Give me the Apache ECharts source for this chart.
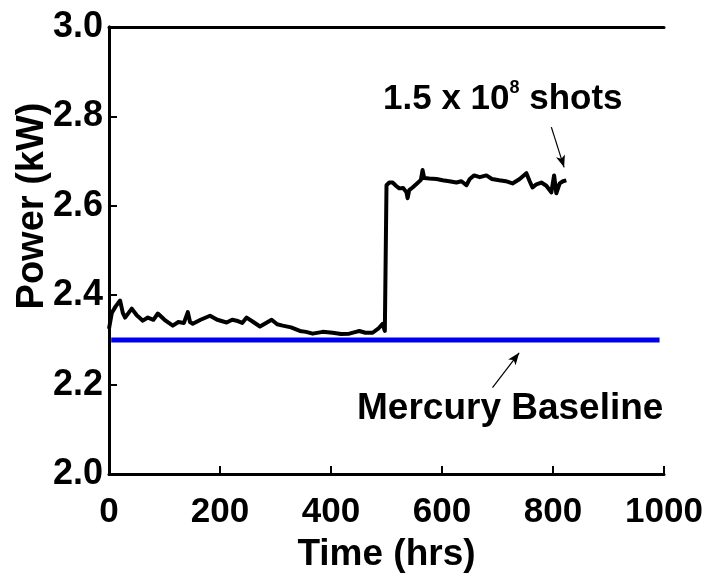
<!DOCTYPE html>
<html>
<head>
<meta charset="utf-8">
<script src="https://cdn.jsdelivr.net/npm/echarts@6/dist/echarts.min.js"></script>
<style>
  html, body { margin: 0; padding: 0; background: #fff; }
  #chart { width: 725px; height: 577px; }
</style>
</head>
<body>
<div id="chart"></div>
<script>
// values
const xTicks = [0, 200, 400, 600, 800, 1000];
const yTicks = [2.0, 2.2, 2.4, 2.6, 2.8, 3.0];

const runHours = [
  0, 5, 12, 20, 25, 29, 35, 41, 50, 61, 70, 80, 88, 100, 115, 125, 135, 142, 146, 151,
  165, 182, 195, 212, 222, 230, 240, 248, 260, 272, 283, 293, 303, 313, 328, 344, 355, 367,
  385, 403, 418, 433, 445, 451, 462, 475, 485, 493, 497, 499,
  500, 505, 511, 517, 523, 530, 536, 538, 541, 547, 555, 562, 565, 568, 577, 590, 601, 613,
  626, 635, 644, 650, 658, 668, 680, 690, 703, 715, 727, 740, 752, 758, 763, 770, 779, 788,
  797, 802, 806, 812, 818, 824
];
const runPower = [
  2.325, 2.36, 2.375, 2.388, 2.36, 2.35, 2.36, 2.37, 2.355, 2.343, 2.35, 2.345, 2.359, 2.345,
  2.332, 2.34, 2.338, 2.362, 2.34, 2.336, 2.345, 2.354, 2.345, 2.339, 2.345, 2.343, 2.338,
  2.35, 2.34, 2.33, 2.338, 2.345, 2.335, 2.332, 2.328, 2.32, 2.318, 2.314, 2.318, 2.316,
  2.313, 2.314, 2.318, 2.32, 2.316, 2.316, 2.325, 2.336, 2.32, 2.316,
  2.646, 2.652, 2.652, 2.645, 2.639, 2.64, 2.63, 2.617, 2.635, 2.641, 2.65, 2.658, 2.68,
  2.662, 2.661, 2.66, 2.657, 2.655, 2.652, 2.655, 2.646, 2.66, 2.668, 2.664, 2.668, 2.66,
  2.657, 2.655, 2.65, 2.66, 2.673, 2.655, 2.641, 2.648, 2.652, 2.645, 2.63, 2.668, 2.628,
  2.65, 2.655, 2.657
];

const baselineHours = [4, 992];
const baselinePower = [2.30, 2.30];

const chart = echarts.init(document.getElementById('chart'));

const font = 'Liberation Sans, Arial, sans-serif';
const narrow = 'Liberation Sans Narrow, Arial Narrow, Liberation Sans, sans-serif';
const frame = { show: true, lineStyle: { color: '#000', width: 3 } };

chart.setOption({
  animation: false,
  backgroundColor: '#fff',
  grid: { left: 109, right: 61, top: 27, bottom: 103, containLabel: false, outerBoundsMode: 'none' },
  xAxis: [
    {
      type: 'value', min: 0, max: 1000, interval: 200,
      axisLine: frame,
      axisTick: { show: true, inside: true, length: 8, lineStyle: { color: '#000', width: 2 } },
      splitLine: { show: false },
      axisLabel: {
        color: '#000', fontFamily: narrow, fontWeight: 'bold', fontSize: 35, margin: 21,
        formatter: v => xTicks.includes(v) ? String(v) : ''
      },
      name: 'Time (hrs)', nameLocation: 'middle', nameGap: 62,
      nameTextStyle: { color: '#000', fontFamily: font, fontWeight: 'bold', fontSize: 37 }
    },
    {
      type: 'value', position: 'top', min: 0, max: 1000, interval: 200,
      axisLine: frame, axisTick: { show: false }, axisLabel: { show: false }, splitLine: { show: false }
    }
  ],
  yAxis: [
    {
      type: 'value', min: 2.0, max: 3.0, interval: 0.2,
      axisLine: frame,
      axisTick: { show: true, inside: true, length: 8, lineStyle: { color: '#000', width: 2 } },
      splitLine: { show: false },
      axisLabel: {
        color: '#000', fontFamily: font, fontWeight: 'bold', fontSize: 36, margin: 6,
        formatter: v => yTicks.some(t => Math.abs(t - v) < 1e-9) ? v.toFixed(1) : ''
      }
    },
    {
      type: 'value', position: 'right', min: 2.0, max: 3.0, interval: 0.2,
      axisLine: frame, axisTick: { show: false }, axisLabel: { show: false }, splitLine: { show: false }
    }
  ],
  graphic: [
    {
      type: 'text', x: 33, y: 206, rotation: Math.PI / 2,
      style: {
        text: 'Power (kW)', fill: '#000', font: 'bold 38px ' + font,
        align: 'center', verticalAlign: 'middle'
      }
    },
    {
      type: 'text', x: 383, y: 99,
      style: {
        text: '{a|1.5 x 10}{s|8}{a| shots}',
        rich: {
          a: { fill: '#000', fontFamily: font, fontWeight: 'bold', fontSize: 35 },
          s: { fill: '#000', fontFamily: font, fontWeight: 'bold', fontSize: 18, verticalAlign: 'top', padding: [0, 0, 22, 0] }
        },
        verticalAlign: 'middle'
      }
    },
    {
      type: 'text', x: 357, y: 409,
      style: {
        text: 'Mercury Baseline', fill: '#000', font: 'bold 37px ' + font,
        verticalAlign: 'middle'
      }
    }
  ],
  series: [
    {
      type: 'line',
      data: baselineHours.map((h, i) => [h, baselinePower[i]]),
      showSymbol: false,
      lineStyle: { color: '#0000ee', width: 5 },
      z: 2
    },
    {
      type: 'line',
      data: runHours.map((h, i) => [h, runPower[i]]),
      showSymbol: false,
      lineStyle: { color: '#000', width: 4, join: 'round' },
      z: 3,
      markLine: {
        silent: true,
        symbol: ['none', 'arrow'],
        symbolSize: [7, 12],
        label: { show: false },
        lineStyle: { color: '#000', width: 1.2, type: 'solid' },
        data: [
          [{ coord: [797, 2.776] }, { coord: [820, 2.686] }],
          [{ coord: [691, 2.193] }, { coord: [739, 2.271] }]
        ]
      }
    }
  ]
});
</script>
</body>
</html>
